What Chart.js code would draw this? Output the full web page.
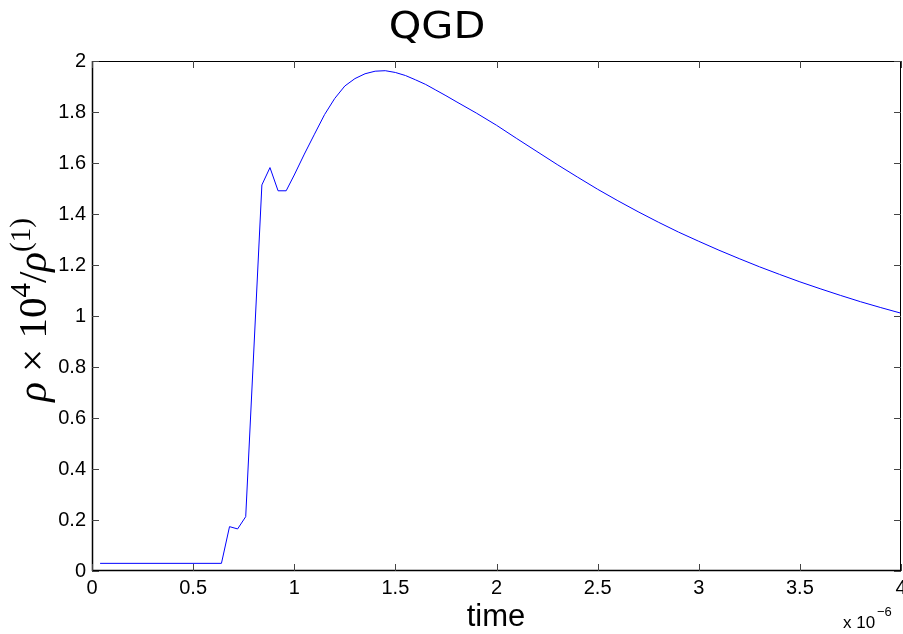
<!DOCTYPE html>
<html>
<head>
<meta charset="utf-8">
<script src="https://cdn.jsdelivr.net/npm/chart.js@4.4.1/dist/chart.umd.min.js"></script>
<style>
  html, body { margin: 0; padding: 0; background: #fff; }
  canvas { display: block; }
</style>
</head>
<body>
<canvas id="qgd" width="903" height="634"></canvas>
<script>
// time (units of 1e-6 s) and rho x 1e4 / rho(1)
const times = [
  0.04, 0.64, 0.68, 0.72, 0.76, 0.84, 0.88, 0.92, 0.96, 1.0,
  1.05, 1.1, 1.15, 1.2, 1.25, 1.3, 1.35, 1.4, 1.45, 1.5,
  1.55, 1.6, 1.65, 1.7, 1.75, 1.8, 1.9,
  2.0, 2.1, 2.2, 2.3, 2.4, 2.5, 2.6, 2.7, 2.8, 2.9,
  3.0, 3.1, 3.2, 3.3, 3.4, 3.5, 3.6, 3.7, 3.8, 3.9, 4.0,
];
const density = [
  0.03, 0.03, 0.174, 0.165, 0.213, 1.514, 1.582, 1.491, 1.491, 1.553,
  1.635, 1.713, 1.79, 1.853, 1.902, 1.931, 1.95, 1.96, 1.962, 1.955,
  1.943, 1.926, 1.908, 1.886, 1.864, 1.841, 1.796,
  1.748, 1.696, 1.645, 1.594, 1.545, 1.497, 1.452, 1.409, 1.368, 1.329,
  1.293, 1.258, 1.225, 1.193, 1.163, 1.134, 1.107, 1.081, 1.056, 1.033, 1.011,
];
const xTickStep = 0.5;
const yTickStep = 0.2;

const tickFont = { family: 'Liberation Sans', size: 20 };
const fmt = (v) => String(Math.round(v * 10) / 10);

// MATLAB-style box with inward ticks, title and axis labels
const matlabFrame = {
  id: 'matlabFrame',
  afterDraw(chart) {
    const { ctx, chartArea: a, scales } = chart;
    ctx.save();
    ctx.strokeStyle = '#000';
    ctx.lineWidth = 1;
    ctx.strokeRect(a.left + 0.5, a.top + 0.5, a.right - a.left - 1, a.bottom - a.top - 1);
    ctx.lineWidth = 1.5;
    ctx.beginPath();
    ctx.moveTo(a.left, a.bottom - 0.5);
    ctx.lineTo(a.right, a.bottom - 0.5);
    ctx.moveTo(a.left + 0.5, a.top);
    ctx.lineTo(a.left + 0.5, a.bottom);
    ctx.stroke();

    ctx.lineWidth = 1;
    ctx.strokeStyle = '#444';
    const len = 7;
    ctx.beginPath();
    scales.x.ticks.forEach((t) => {
      const px = Math.round(scales.x.getPixelForValue(t.value)) + 0.5;
      ctx.moveTo(px, a.bottom);
      ctx.lineTo(px, a.bottom - len);
      ctx.moveTo(px, a.top);
      ctx.lineTo(px, a.top + len);
    });
    scales.y.ticks.forEach((t) => {
      const py = Math.round(scales.y.getPixelForValue(t.value)) + 0.5;
      ctx.moveTo(a.left, py);
      ctx.lineTo(a.left + len, py);
      ctx.moveTo(a.right, py);
      ctx.lineTo(a.right - len, py);
    });
    ctx.stroke();

    // title, drawn a little wide like the original geometric face
    ctx.fillStyle = '#000';
    ctx.textAlign = 'center';
    ctx.textBaseline = 'alphabetic';
    ctx.save();
    ctx.translate(437, 38);
    ctx.scale(1.12, 1);
    ctx.font = '37px "DejaVu Sans"';
    ctx.fillText('QGD', 0, 0);
    ctx.restore();

    // x label
    ctx.font = '31px "Liberation Sans"';
    ctx.fillText('time', 496, 626);

    // exponent
    ctx.textAlign = 'left';
    ctx.font = '17px "Liberation Sans"';
    ctx.fillText('x 10', 843, 628);
    ctx.font = '13px "Liberation Sans"';
    ctx.fillText('\u22126', 877, 616);

    // y label (rotated), sized to span the same length as the original
    const parts = [
      { t: 'ρ', it: true, sup: false },
      { t: ' × ', it: false, sup: false },
      { t: '10', it: false, sup: false },
      { t: '4', it: false, sup: true },
      { t: '/', it: false, sup: false },
      { t: 'ρ', it: true, sup: false },
      { t: '(1)', it: false, sup: true },
    ];
    const font = (p, s) => `${p.it ? 'italic ' : ''}${p.sup ? Math.round(s * 0.7) : s}px "Liberation Serif"`;
    let total = 0;
    parts.forEach((p) => { ctx.font = font(p, 100); total += ctx.measureText(p.t).width; });
    const size = Math.round(100 * 184 / total);
    total = 0;
    parts.forEach((p) => { ctx.font = font(p, size); p.w = ctx.measureText(p.t).width; total += p.w; });
    ctx.translate(46, 310);
    ctx.rotate(-Math.PI / 2);
    let cx = -total / 2;
    parts.forEach((p) => {
      ctx.font = font(p, size);
      ctx.fillText(p.t, cx, p.sup ? -size * 0.4 : 0);
      cx += p.w;
    });
    ctx.restore();
  },
};

const ctx = document.getElementById('qgd');
// eslint-disable-next-line no-unused-vars
const chart = new Chart(ctx, {
  type: 'line',
  data: {
    datasets: [
      {
        data: times.map((t, i) => ({ x: t, y: density[i] })),
        borderColor: '#0000ff',
        borderWidth: 1,
        pointRadius: 0,
        tension: 0,
        fill: false,
      },
    ],
  },
  options: {
    responsive: false,
    animation: false,
    devicePixelRatio: 1,
    layout: { padding: { top: 61, right: 2, left: 0, bottom: 0 } },
    scales: {
      x: {
        type: 'linear',
        min: 0,
        max: 4,
        ticks: {
          stepSize: xTickStep, color: '#000', font: tickFont, padding: 5, maxRotation: 0,
          callback: (v) => fmt(v),
        },
        grid: { display: false, drawTicks: false },
        border: { display: false },
        afterFit: (s) => { s.height = 63; s.paddingLeft = 0; s.paddingRight = 0; },
      },
      y: {
        min: 0,
        max: 2,
        ticks: {
          stepSize: yTickStep, color: '#000', font: tickFont, padding: 6,
          callback: (v) => fmt(v),
        },
        grid: { display: false, drawTicks: false },
        border: { display: false },
        afterFit: (s) => { s.width = 92; s.paddingTop = 0; s.paddingBottom = 0; },
      },
    },
    plugins: {
      legend: { display: false },
      tooltip: { enabled: false },
    },
  },
  plugins: [matlabFrame],
});
</script>
</body>
</html>
